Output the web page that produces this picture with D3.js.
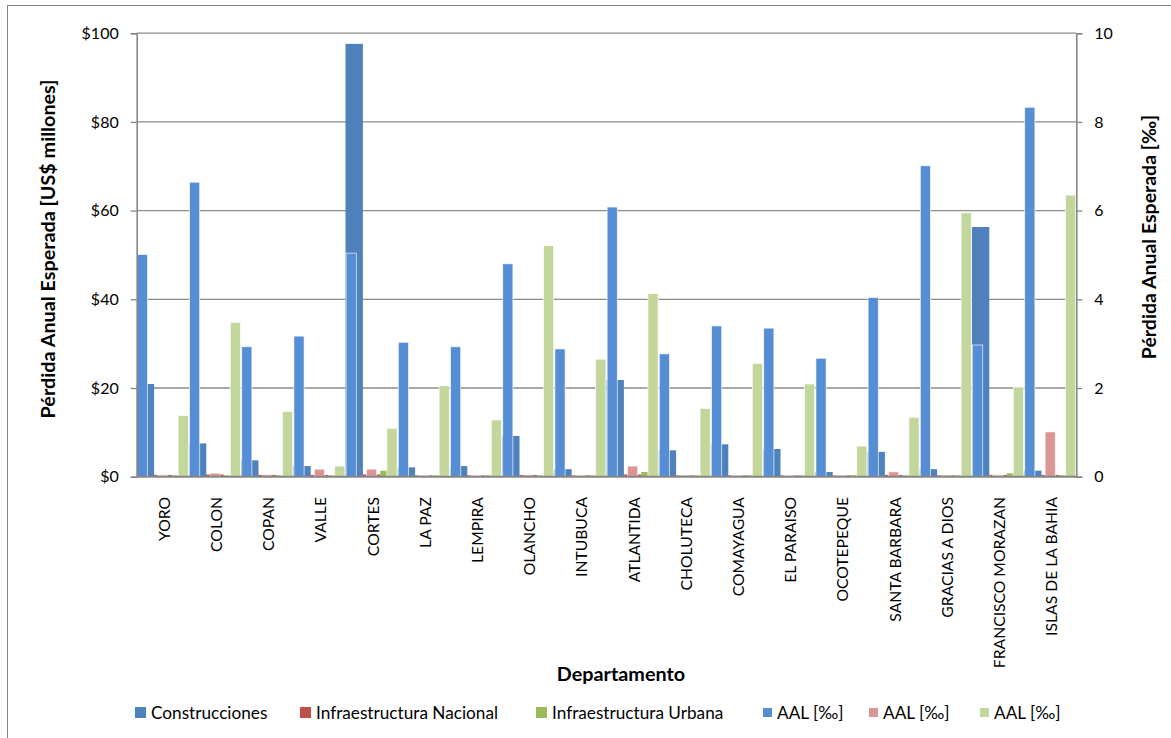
<!DOCTYPE html>
<html><head><meta charset="utf-8">
<script src="https://cdn.jsdelivr.net/npm/d3@7"></script>
<style>body{margin:0;background:#fff}svg{display:block;font-family:Lato,"Open Sans",sans-serif}</style>
</head><body><svg id="c" width="1171" height="738"></svg>
<script>
const categories = ["YORO","COLON","COPAN","VALLE","CORTES","LA PAZ","LEMPIRA","OLANCHO","INTUBUCA","ATLANTIDA","CHOLUTECA","COMAYAGUA","EL PARAISO","OCOTEPEQUE","SANTA BARBARA","GRACIAS A DIOS","FRANCISCO MORAZAN","ISLAS DE LA BAHIA"];
const construcciones = [20.9,7.5,3.7,2.4,97.6,2.1,2.4,9.2,1.7,21.8,5.95,7.3,6.25,1.06,5.6,1.7,56.3,1.35];
const infraNacional = [0.4,0.5,0.4,0.4,0.5,0.3,0.3,0.4,0.3,0.5,0.3,0.3,0.3,0.3,0.4,0.3,0.4,0.4];
const infraUrbana = [0.3,0.3,0.3,0.3,1.35,0.3,0.3,0.3,0.3,1.06,0.3,0.3,0.3,0.3,0.3,0.3,0.77,0.3];
const aalConstrucciones = [5.01,6.64,2.93,3.17,5.04,3.03,2.93,4.8,2.88,6.08,2.77,3.4,3.35,2.67,4.04,7.01,2.97,8.33];
const aalNacional = [0.03,0.08,0.02,0.17,0.17,0.03,0.03,0.02,0.03,0.24,0.02,0.03,0.03,0.03,0.11,0.02,0.03,1.01];
const aalUrbana = [1.38,3.48,1.47,0.24,1.09,2.05,1.28,5.21,2.65,4.13,1.54,2.55,2.09,0.69,1.34,5.95,2.02,6.35];
const leftTicks = [0,20,40,60,80,100];
const rightTicks = [0,2,4,6,8,10];
const primaryNames = ["Construcciones","Infraestructura Nacional","Infraestructura Urbana"];
const secondaryNames = ["AAL [‰]","AAL [‰]","AAL [‰]"];

const primaryColors = ["#4F81BD","#C0504D","#9BBB59"];
const secondaryColors = ["#558ED5","#D99694","#C3D69B"];

const svg = d3.select("#c");
const L = 136.7, R = 1076.3, T = 33.2, B = 476.7;
const gray = "#868686";

// chart border
svg.append("rect").attr("x",7.5).attr("y",5.5).attr("width",1180).attr("height",760)
  .attr("fill","none").attr("stroke",gray).attr("stroke-width",1);

const x = d3.scaleBand().domain(categories).range([L,R]).padding(0);
const xp = d3.scaleBand().domain([0,1,2]).range([0,x.bandwidth()]).padding(0);
const xs = d3.scaleBand().domain([0,1,2]).range([0,x.bandwidth()]).paddingInner(0.5).paddingOuter(0.03);
const yL = d3.scaleLinear().domain([0,100]).range([B,T]);
const yR = d3.scaleLinear().domain([0,10]).range([B,T]);

// gridlines
svg.append("g").selectAll("line").data(leftTicks.filter(d=>d>0)).join("line")
  .attr("x1",L).attr("x2",R).attr("y1",d=>yL(d)).attr("y2",d=>yL(d))
  .attr("stroke","#8c8c8c").attr("stroke-width",1.3);

// primary bars
const primary = [construcciones, infraNacional, infraUrbana];
primary.forEach((vals,i)=>{
  svg.append("g").selectAll("rect").data(vals).join("rect")
    .attr("x",(d,j)=>x(categories[j])+xp(i))
    .attr("width",xp.bandwidth())
    .attr("y",d=>yL(d)).attr("height",d=>B-yL(d))
    .attr("fill",primaryColors[i]);
});
// secondary bars
const secondary = [aalConstrucciones, aalNacional, aalUrbana];
secondary.forEach((vals,i)=>{
  svg.append("g").selectAll("rect").data(vals).join("rect")
    .attr("x",(d,j)=>x(categories[j])+xs(i))
    .attr("width",xs.bandwidth())
    .attr("y",d=>yR(d)).attr("height",d=>B-yR(d))
    .attr("fill",secondaryColors[i])
    .attr("stroke","#ffffff").attr("stroke-opacity",0.8).attr("stroke-width",0.8);
});

// axes
const axL = svg.append("g").attr("transform",`translate(${L},0)`)
  .call(d3.axisLeft(yL).tickValues(leftTicks).tickFormat(d=>"$"+d).tickSize(6).tickPadding(12));
const axR = svg.append("g").attr("transform",`translate(${R},0)`)
  .call(d3.axisRight(yR).tickValues(rightTicks).tickFormat(d3.format("d")).tickSize(6).tickPadding(12));
[axL,axR].forEach(a=>{
  a.select(".domain").attr("stroke",gray).attr("stroke-width",1.6);
  a.selectAll(".tick line").attr("stroke",gray).attr("stroke-width",1.3);
  a.selectAll(".tick text").attr("font-size",16).attr("fill","#000").attr("font-family","Lato");
});
// bottom axis line
svg.append("line").attr("x1",L).attr("x2",R).attr("y1",B).attr("y2",B)
  .attr("stroke",gray).attr("stroke-width",2);

// category labels
svg.append("g").selectAll("text").data(categories).join("text")
  .attr("transform",d=>`translate(${x(d)+x.bandwidth()/2+1.5},497) rotate(-90)`)
  .attr("text-anchor","end").attr("dy","0.35em")
  .attr("font-size",15.7).attr("fill","#000").text(d=>d);

// axis titles
svg.append("text").attr("transform","translate(48,249) rotate(-90)")
  .attr("text-anchor","middle").attr("dy","0.35em").attr("font-weight","bold")
  .attr("font-size",19.8).text("Pérdida Anual Esperada [US$ millones]");
svg.append("text").attr("transform","translate(1149,237) rotate(-90)")
  .attr("text-anchor","middle").attr("dy","0.35em").attr("font-weight","bold")
  .attr("font-size",19.5).text("Pérdida Anual Esperada [‰]");
svg.append("text").attr("x",621).attr("y",674).attr("text-anchor","middle").attr("dy","0.35em")
  .attr("font-weight","bold").attr("font-size",19.8).text("Departamento");

// legend
const legendItems = [
  {name:primaryNames[0],color:primaryColors[0],sq:135,size:11},
  {name:primaryNames[1],color:primaryColors[1],sq:300,size:11},
  {name:primaryNames[2],color:primaryColors[2],sq:536,size:11},
  {name:secondaryNames[0],color:secondaryColors[0],sq:763,size:9},
  {name:secondaryNames[1],color:secondaryColors[1],sq:869,size:9},
  {name:secondaryNames[2],color:secondaryColors[2],sq:980,size:9}
];
const lg = svg.append("g").selectAll("g").data(legendItems).join("g");
lg.append("rect").attr("x",d=>d.sq).attr("y",d=>712.5-d.size/2).attr("width",d=>d.size).attr("height",d=>d.size).attr("fill",d=>d.color);
lg.append("text").attr("x",d=>d.sq+d.size+5).attr("y",713).attr("dy","0.35em")
  .attr("font-size",17.2).attr("fill","#000").text(d=>d.name);
</script></body></html>
